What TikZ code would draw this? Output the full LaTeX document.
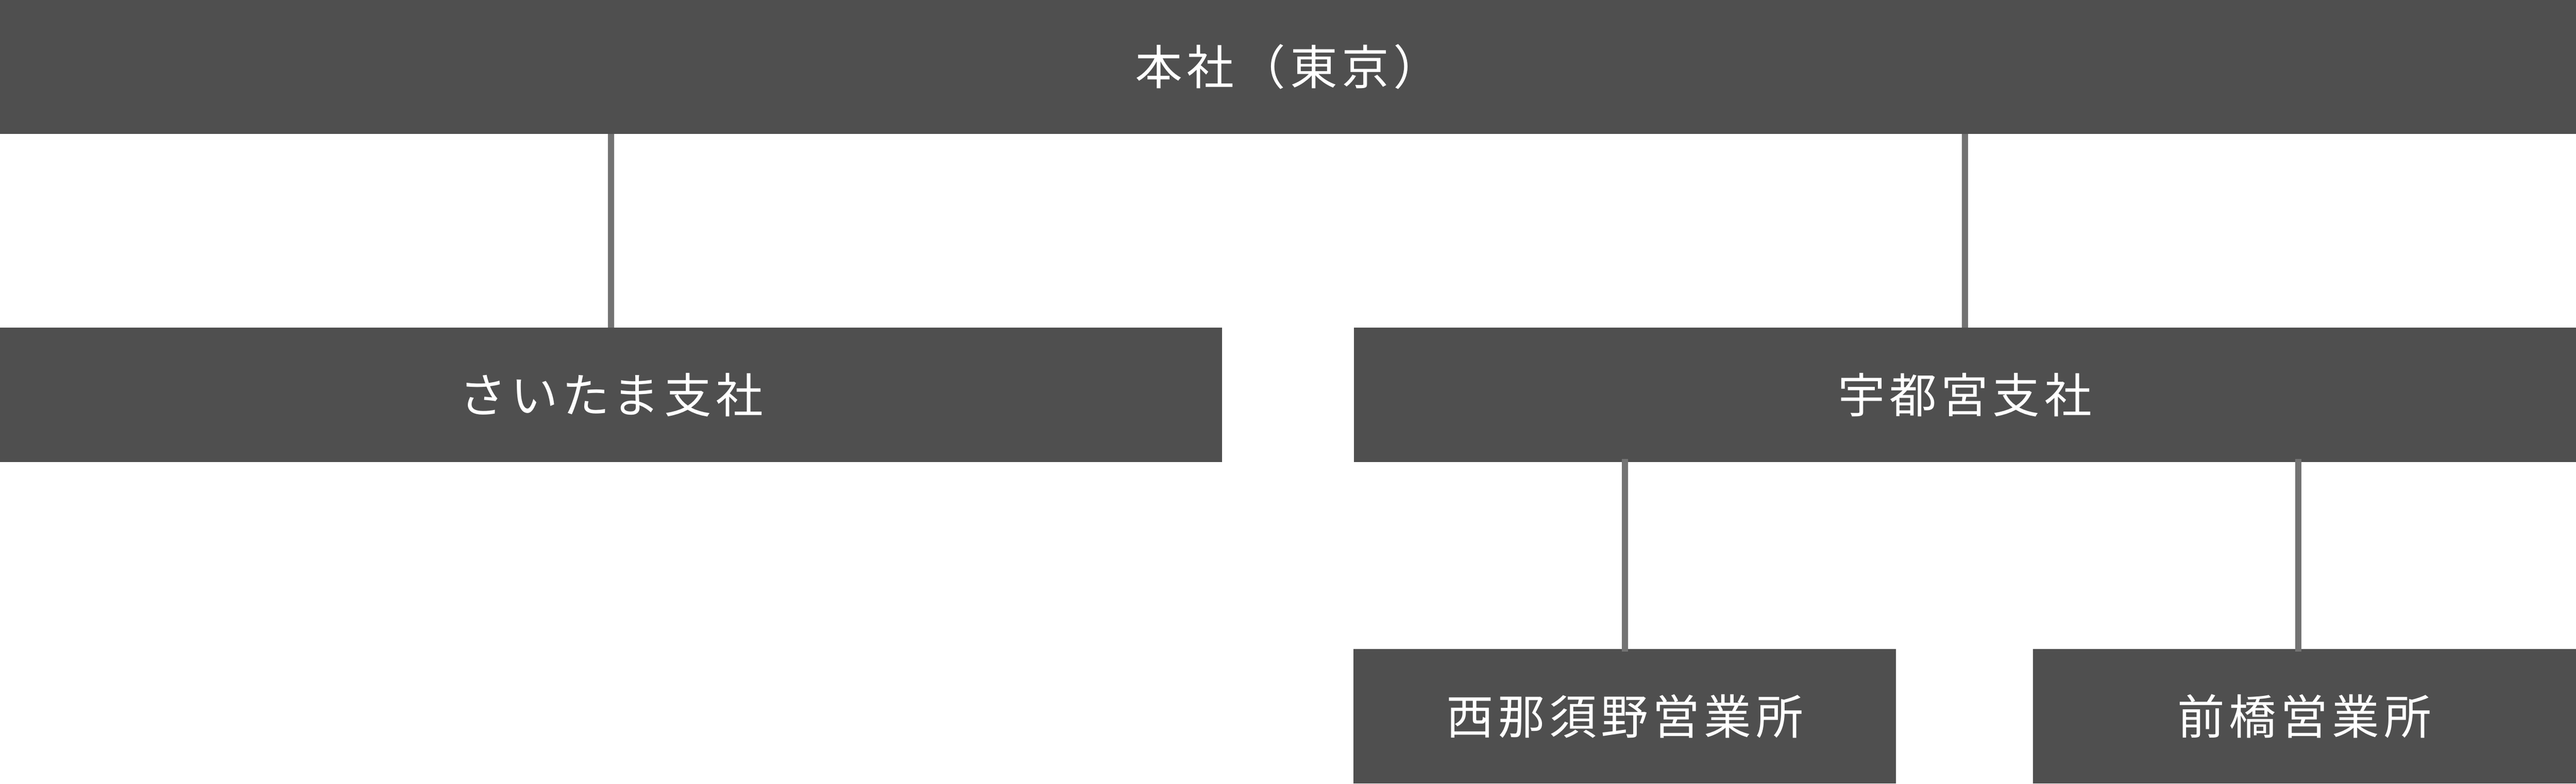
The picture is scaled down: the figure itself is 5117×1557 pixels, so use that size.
\documentclass[tikz,border=0pt]{standalone}
\usepackage{fontspec}
\newfontfamily\jpfont[LetterSpace=9]{Noto Sans CJK JP}
\definecolor{boxgray}{HTML}{4F4F4F}
\definecolor{linegray}{HTML}{737373}
\begin{document}
\begin{tikzpicture}[x=0.1pt,y=-0.1pt,
  orgbox/.style={fill=boxgray, draw=none, inner sep=0pt, outer sep=0pt,
    text=white, font=\jpfont\fontsize{9.4pt}{11pt}\selectfont, anchor=center},
  conn/.style={draw=linegray, line width=1.2pt}]
\useasboundingbox (0,0) rectangle (5117,1557);
\node[orgbox, minimum width=511.7pt, minimum height=26.6pt] (hq) at (2558.5,133) {本社（東京）};
\node[orgbox, minimum width=242.8pt, minimum height=26.7pt] (sai) at (1214,784.5) {さいたま支社};
\node[orgbox, minimum width=242.8pt, minimum height=26.7pt] (utsu) at (3903,784.5) {宇都宮支社};
\node[orgbox, minimum width=107.8pt, minimum height=26.8pt] (nishi) at (3227.5,1423) {西那須野営業所};
\node[orgbox, minimum width=107.9pt, minimum height=26.8pt] (mae) at (4577.5,1423) {前橋営業所};
\draw[conn] (sai.north |- hq.south) -- (sai.north);
\draw[conn] (utsu.north |- hq.south) -- (utsu.north);
\draw[conn] ([yshift=0.6pt]nishi.north |- utsu.south) -- ([yshift=-0.6pt]nishi.north);
\draw[conn] ([xshift=-1.2pt,yshift=0.6pt]mae.north |- utsu.south) -- ([xshift=-1.2pt,yshift=-0.6pt]mae.north);
\end{tikzpicture}
\end{document}
